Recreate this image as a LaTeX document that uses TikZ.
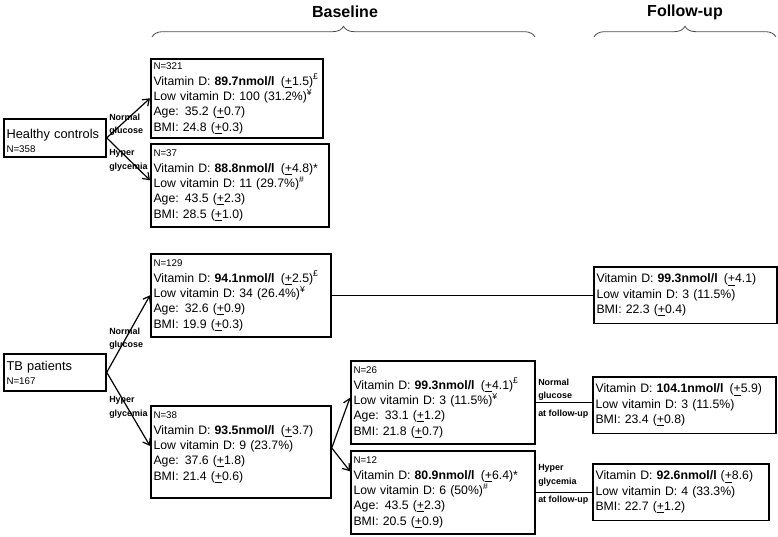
\documentclass[tikz,border=0pt]{standalone}
\usepackage{fontspec}
\setmainfont{Liberation Sans}
\usetikzlibrary{arrows.meta,calc,decorations.pathreplacing,positioning}
\newcommand{\sdev}[1]{(\underline{+}#1)}
\newcommand{\nsmall}[1]{{\fontsize{7.3}{8}\selectfont N=#1}}
\newcommand{\toppad}[1]{\rule{0pt}{#1}}
\newcommand{\boxpad}[1]{\rule[-#1]{0pt}{#1}}
\tikzset{
  databox/.style={draw,line width=1.3pt,anchor=north west,align=left,inner xsep=2pt,inner ysep=4.5pt,font=\fontsize{9.2}{11.5}\selectfont},
  fubox/.style={databox,inner ysep=5.4pt},
  groupbox/.style={draw,line width=1.3pt,anchor=north west,align=left,inner xsep=2pt,inner ysep=2pt,font=\fontsize{9.6}{10.5}\selectfont},
  glucarr/.style={-{Straight Barb[length=4.5pt,width=6.5pt]},line width=0.9pt},
  linkline/.style={line width=0.9pt},
  tagtext/.style={font=\fontsize{6.7}{10}\selectfont\bfseries,align=left,anchor=north west,inner sep=0pt},
  phasebrace/.style={decorate,decoration={brace,amplitude=8pt},line width=0.6pt,color=black!70},
  phasetitle/.style={font=\fontsize{12}{14}\selectfont\bfseries}
}
\begin{document}
\begin{tikzpicture}[x=0.75pt,y=-0.75pt]
  \useasboundingbox (0,0) rectangle (778,536);
  % phase headings
  \node[phasetitle] (basetitle) at (345,12) {Baseline};
  \node[phasetitle] (futitle) at (685,12) {Follow-up};
  \draw[phasebrace] (152,37) -- (535,37);
  \draw[phasebrace] (594,37) -- (776,37);

  % healthy controls
  \node[groupbox,text width=72.5pt] (hc) at (3,118)
    {\toppad{12.6pt}Healthy controls\\\nsmall{358}\boxpad{1.4pt}};
  \node[databox,text width=125pt,inner ysep=3pt] (hcnorm) at (150,58)
    {\nsmall{321}\\
     \mbox{Vitamin D: \textbf{89.7nmol/l}\, \sdev{1.5}\textsuperscript{£}}\\
     Low vitamin D: 100 (31.2\%)\textsuperscript{¥}\\
     Age: 35.2 \sdev{0.7}\\
     BMI: 24.8 \sdev{0.3}};
  \node[databox,text width=129.5pt] (hchyp) at (150,143)
    {\nsmall{37}\\
     \mbox{Vitamin D: \textbf{88.8nmol/l}\, \sdev{4.8}*}\\
     Low vitamin D: 11 (29.7\%)\textsuperscript{\#}\\
     Age: 43.5 \sdev{2.3}\\
     BMI: 28.5 \sdev{1.0}};
  \draw[glucarr] (hc.east) -- (hcnorm.west);
  \draw[glucarr] (hc.east) -- ([yshift=3.75pt]hchyp.west);
  \node[tagtext] (hcnormtag) at (109,113.5) {Normal\\glucose};
  \node[tagtext] (hchyptag) at (109,149.5) {Hyper\\glycemia};

  % TB patients, baseline
  \node[groupbox,text width=72.5pt] (tb) at (3,353)
    {\toppad{10.3pt}TB patients\\\nsmall{167}\boxpad{2.9pt}};
  \node[databox,text width=131pt] (tbnorm) at (150,253)
    {\nsmall{129}\\
     \mbox{Vitamin D: \textbf{94.1nmol/l}\, \sdev{2.5}\textsuperscript{£}}\\
     Low vitamin D: 34 (26.4\%)\textsuperscript{¥}\\
     Age: 32.6 \sdev{0.9}\\
     BMI: 19.9 \sdev{0.3}};
  \node[databox,text width=131pt] (tbhyp) at (150,405)
    {\nsmall{38}\\
     \mbox{Vitamin D: \textbf{93.5nmol/l}\, \sdev{3.7}}\\
     Low vitamin D: 9 (23.7\%)\\
     Age: 37.6 \sdev{1.8}\\
     BMI: 21.4 \sdev{0.6}\boxpad{9pt}};
  \node[databox,text width=134pt] (tbhypnorm) at (350,360)
    {\nsmall{26}\\
     \mbox{Vitamin D: \textbf{99.3nmol/l}\, \sdev{4.1}\textsuperscript{£}}\\
     Low vitamin D: 3 (11.5\%)\textsuperscript{¥}\\
     Age: 33.1 \sdev{1.2}\\
     BMI: 21.8 \sdev{0.7}};
  \node[databox,text width=134pt] (tbhyphyp) at (350,450)
    {\nsmall{12}\\
     \mbox{Vitamin D: \textbf{80.9nmol/l}\, \sdev{6.4}*}\\
     Low vitamin D: 6 (50\%)\textsuperscript{\#}\\
     Age: 43.5 \sdev{2.3}\\
     BMI: 20.5 \sdev{0.9}};
  \draw[glucarr] (tb.east) -- (tbnorm.west);
  \draw[glucarr] (tb.east) -- ([yshift=4.5pt]tbhyp.west);
  \draw[glucarr] ([yshift=3pt]tbhyp.east) -- ([yshift=3.4pt]tbhypnorm.west);
  \draw[glucarr] ([yshift=3pt]tbhyp.east) -- ([yshift=15.75pt]tbhyphyp.west);
  \node[tagtext] (tbnormtag) at (109,327.5) {Normal\\glucose};
  \node[tagtext] (tbhyptag) at (109,396.5) {Hyper\\glycemia};

  % TB patients, follow-up
  \node[fubox,text width=133.2pt] (funorm) at (593,266)
    {\mbox{Vitamin D: \textbf{99.3nmol/l}\, \sdev{4.1}}\\
     Low vitamin D: 3 (11.5\%)\\
     BMI: 22.3 \sdev{0.4}};
  \node[fubox,text width=133.2pt] (fuhypnorm) at (592,376)
    {\mbox{Vitamin D: \textbf{104.1nmol/l}\, \sdev{5.9}}\\
     Low vitamin D: 3 (11.5\%)\\
     BMI: 23.4 \sdev{0.8}};
  \node[fubox,text width=128pt] (fuhyphyp) at (592,463)
    {\mbox{Vitamin D: \textbf{92.6nmol/l} \sdev{8.6}}\\
     Low vitamin D: 4 (33.3\%)\\
     BMI: 22.7 \sdev{1.2}};
  \draw[linkline] (tbnorm.east) -- (tbnorm.east -| funorm.west);
  \draw[linkline] (tbhypnorm.east) -- (tbhypnorm.east -| fuhypnorm.west);
  \draw[linkline] (tbhyphyp.east) -- (tbhyphyp.east -| fuhyphyp.west);
  \node[tagtext] (fnormtag) at (538,378.5) {Normal\\glucose\\[3.5pt]at follow-up};
  \node[tagtext] (fhyptag) at (538,464.5) {Hyper\\glycemia\\[3.5pt]at follow-up};
\end{tikzpicture}
\end{document}
